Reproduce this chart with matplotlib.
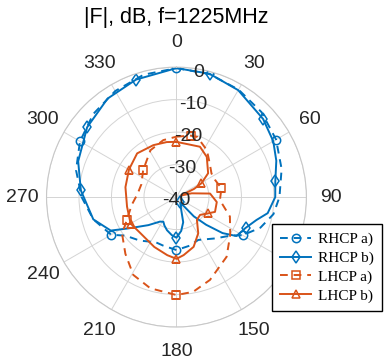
import numpy as np
import matplotlib
matplotlib.use("Agg")
import matplotlib.pyplot as plt
import matplotlib.transforms as mtransforms

plt.rcParams['font.family'] = ['Liberation Sans', 'DejaVu Sans']
plt.rcParams['axes.unicode_minus'] = False

# angles in degrees (0 = top, clockwise), gain in dB
rhcp_a_ang = [0, 15, 30, 45, 60, 75, 90, 100, 110, 120, 125, 137, 153, 165, 180,
              195, 205, 220, 233, 240, 255, 270, 285, 300, 315, 330, 345, 360]
rhcp_a_db = [-0.3, -0.8, -1.8, -3.0, -4.6, -6.5, -8.3, -9.7, -12.5, -16.5, -19.4, -22.6, -25.2, -24.5, -23.7,
             -24.5, -24.7, -22.5, -20.3, -16.8, -13.5, -10.8, -8.0, -5.7, -3.8, -2.3, -1.0, -0.3]

rhcp_b_ang = [0, 15, 30, 48, 60, 70, 81, 90, 100, 106, 114, 123, 128, 133, 138, 145, 155, 165, 172, 180,
              187, 196, 203, 208, 214, 225, 237, 243, 255, 274, 290, 308, 325, 341, 360]
rhcp_b_db = [-0.3, -0.7, -2.0, -4.1, -5.6, -7.3, -9.2, -9.6, -11.5, -14.4, -16.7, -18.0, -22.0, -27.5, -32.0,
             -38.0, -37.0, -32.0, -29.5, -27.5, -28.2, -29.4, -30.5, -31.4, -30.9, -27.8, -22.3, -17.3, -13.5,
             -10.5, -7.8, -5.1, -3.0, -1.75, -0.3]

lhcp_a_ang = [0, 13, 19, 33, 45, 56, 66, 79, 94, 110, 125, 140, 158, 170, 180, 196, 209, 222, 236, 245,
              260, 275, 290, 309, 331, 347, 360]
lhcp_a_db = [-21.4, -20.6, -20.4, -22.8, -25.5, -27.0, -27.0, -25.9, -26.6, -22.5, -19.8, -16.0, -12.5, -10.4,
             -9.85, -10.8, -12.6, -16.5, -19.8, -23.1, -26.0, -28.0, -28.5, -26.8, -23.5, -22.0, -21.4]

lhcp_b_ang = [0, 25, 37, 53, 61, 65, 70, 73, 76, 84, 97, 111, 117, 127, 138, 149, 161, 173, 180, 189, 204,
              225, 240, 259, 281, 300, 318, 336, 350, 360]
lhcp_b_db = [-23.0, -22.9, -24.5, -27.8, -31.2, -34.0, -38.5, -38.0, -35.2, -29.6, -27.5, -27.3, -29.0, -30.9,
             -30.6, -27.0, -23.8, -22.0, -21.0, -21.9, -23.2, -24.3, -23.7, -24.5, -24.0, -23.1, -21.9, -22.5,
             -22.8, -23.0]

# where the markers sit on each curve
rhcp_a_marks = [0, 60, 120, 180, 240, 300]
rhcp_b_marks = [15, 48, 81, 114, 145, 180, 274, 308, 341]
lhcp_a_marks = [13, 79, 180, 245, 309]
lhcp_b_marks = [0, 61, 117, 180, 240, 300]

r_ticks = [-40, -30, -20, -10, 0]
theta_ticks = list(range(0, 360, 30))

blue = '#0072BD'
orange = '#D95319'

fig = plt.figure(figsize=(3.9, 3.59), dpi=100)
ax = fig.add_axes([0.119, 0.089, 0.667, 0.724], projection='polar')
ax.set_theta_zero_location('N')
ax.set_theta_direction(-1)

series = [
    (rhcp_a_ang, rhcp_a_db, rhcp_a_marks, blue, '--', 'o', 'RHCP a)'),
    (rhcp_b_ang, rhcp_b_db, rhcp_b_marks, blue, '-', 'd', 'RHCP b)'),
    (lhcp_a_ang, lhcp_a_db, lhcp_a_marks, orange, '--', 's', 'LHCP a)'),
    (lhcp_b_ang, lhcp_b_db, lhcp_b_marks, orange, '-', '^', 'LHCP b)'),
]
for ang, db, marks, col, ls, mk, lab in series:
    idx = [ang.index(m) for m in marks]
    ax.plot(np.deg2rad(ang), db, color=col, ls=ls, lw=1.4, marker=mk, ms=6,
            mfc='none', mec=col, mew=1.1, markevery=idx, label=lab,
            dashes=(4, 3) if ls == '--' else (None, None))

ax.set_ylim(-40, 0)
ax.set_yticks(r_ticks)
ax.set_yticklabels([])
ax.set_thetagrids(theta_ticks, [str(a) for a in theta_ticks])
ax.tick_params(axis='x', pad=7, labelsize=14, colors='#262626')
ax.grid(True, color='#d4d4d4', lw=0.7)
ax.spines['polar'].set_color('#c8c8c8')
ax.spines['polar'].set_linewidth(0.8)

# radial labels sit on the rings, a little right of the 0 direction
lab_tr = mtransforms.offset_copy(ax.transData, fig=fig, x=0, y=-2.5, units='points')
for r in r_ticks:
    ax.text(np.deg2rad(10), r, str(r), transform=lab_tr, ha='center', va='center',
            fontsize=14, color='#262626')

fig.text(0.451, 0.95, '|F|, dB, f=1225MHz', ha='center', va='center', fontsize=15.5)

leg = fig.legend(loc='upper left', bbox_to_anchor=(0.697, 0.376), bbox_transform=fig.transFigure,
                 borderaxespad=0, prop={'family': 'Liberation Serif', 'size': 11},
                 handlelength=2.0, handletextpad=0.45, labelspacing=0.32, borderpad=0.55,
                 fancybox=False, framealpha=1)
leg.get_frame().set_edgecolor('black')
leg.get_frame().set_linewidth(1.0)

fig.savefig('out.png', dpi=100)
